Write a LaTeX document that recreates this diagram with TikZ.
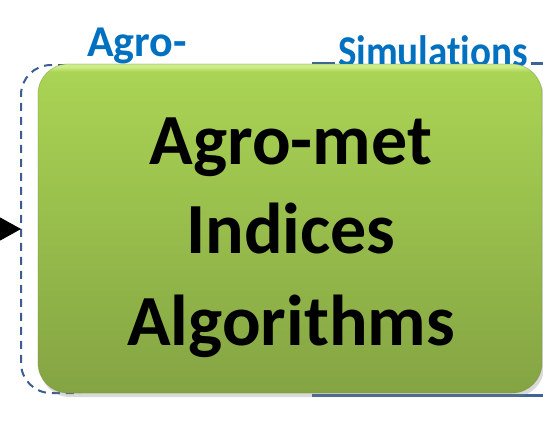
\documentclass[tikz,border=0pt]{standalone}
\usepackage{fontspec}
\setmainfont{Carlito}[Ligatures={NoCommon,NoRare}]
\usetikzlibrary{shadows,arrows.meta}
\definecolor{blueText}{HTML}{0070C0}
\definecolor{dashBlue}{HTML}{3B5E8E}
\definecolor{lineBlue}{HTML}{3C6496}
\definecolor{greenTop}{HTML}{AAD454}
\definecolor{greenBot}{HTML}{84A443}
\definecolor{greenRim}{HTML}{CFEC8C}
\pgfdeclareverticalshading{greenshade}{100bp}{
  color(0bp)=(greenBot); color(25bp)=(greenBot);
  color(73.8bp)=(greenTop); color(74.6bp)=(greenRim);
  color(75bp)=(greenRim); color(100bp)=(greenRim)}
\tikzset{
  bluelabel/.style={font=\fontsize{44}{52}\selectfont\bfseries, text=blueText, inner sep=0pt, anchor=base},
  mainline/.style={font=\fontsize{72}{88}\selectfont\bfseries, text=black, inner sep=0pt, anchor=base},
  dashedframe/.style={draw=dashBlue, line width=2pt, dash pattern=on 8pt off 6pt},
  solidframe/.style={draw=lineBlue, line width=3pt},
  greenbox/.style={rounded corners=30pt, shading=greenshade,
    draw=greenBot!85!black, draw opacity=0.4, line width=0.8pt,
    drop shadow={opacity=0.3, shadow xshift=2pt, shadow yshift=-4pt}}
}
\begin{document}
\begin{tikzpicture}[x=1pt,y=-1pt]
\useasboundingbox (0,0) rectangle (543,429);
% frame lines behind the box
\draw[dashedframe, rounded corners=30pt] (80,65) -- (21,65) -- (21,393) -- (80,393);
\draw[solidframe] (312,63) -- (560,63);
\draw[solidframe] (312,395) -- (560,395);
% incoming arrow
\coordinate (arrowStart) at (-10,229);
\coordinate (arrowEnd) at (21,229);
\draw[line width=1pt, -{Triangle[length=21pt,width=23pt]}] (arrowStart) -- (arrowEnd);
% labels
\node[bluelabel] (agroLabel) at (137,56) {Agro-};
\node[bluelabel, fill=white, inner xsep=3pt] (simLabel) at (433,66) {\resizebox{190pt}{\height}{Simulations}};
% green box
\path[greenbox] (38,64) rectangle (542,393);
\node[mainline] (l1) at (291,164) {Agro-met};
\node[mainline] (l2) at (291,253) {Indices};
\node[mainline] (l3) at (291,345) {Algorithms};
\end{tikzpicture}
\end{document}
